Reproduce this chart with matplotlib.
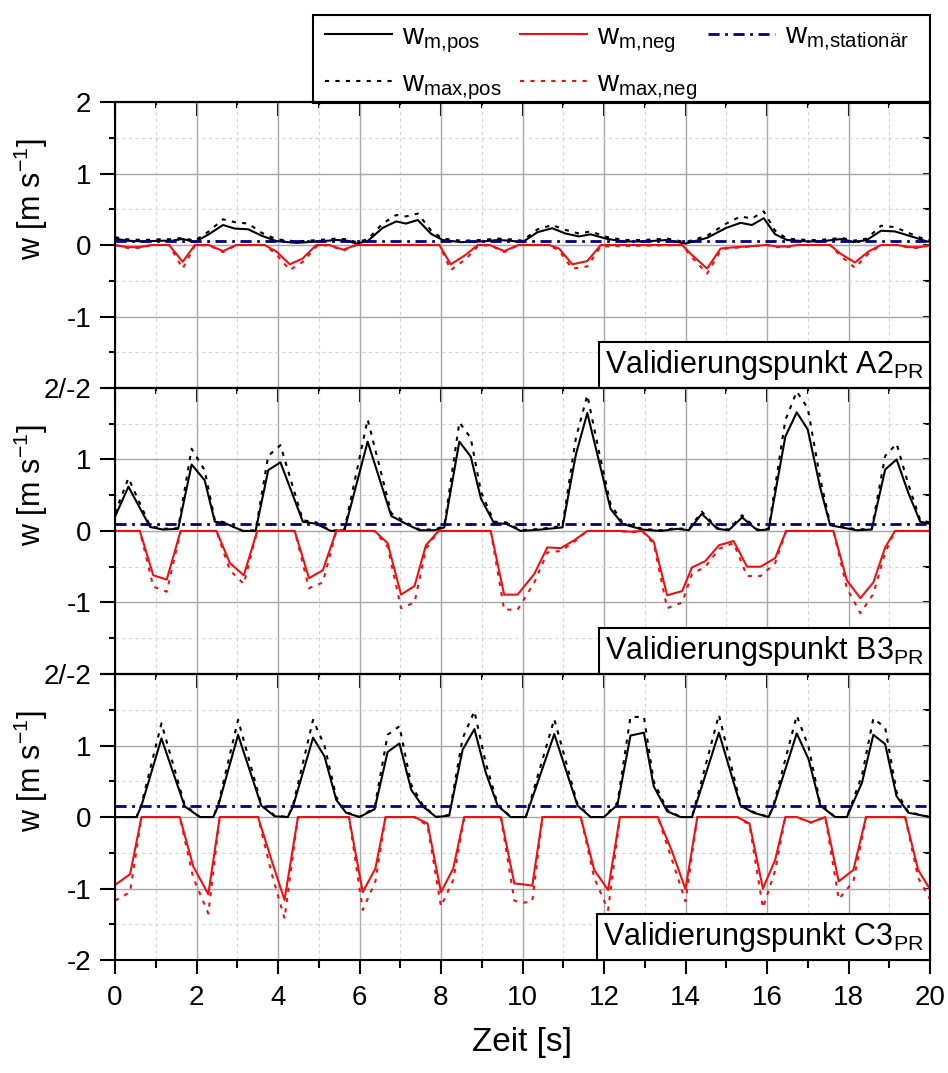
import numpy as np
import matplotlib
matplotlib.use('Agg')
import matplotlib.pyplot as plt
from matplotlib.ticker import MultipleLocator, NullFormatter
from matplotlib.offsetbox import AnchoredText
from matplotlib.patches import Rectangle

plt.rcParams['font.family'] = 'Liberation Sans'
plt.rcParams['mathtext.fontset'] = 'custom'
plt.rcParams['mathtext.rm'] = 'Liberation Sans'
plt.rcParams['mathtext.it'] = 'Liberation Sans:italic'

# ---- Validierungspunkt A2 ----
A2_t_pos = [0, 0.3, 0.7, 1.1, 1.4, 1.66, 1.96, 2.3, 2.65, 2.94,
            3.27, 3.6, 3.96, 4.45, 5.0, 5.43, 5.7, 5.92, 6.2, 6.57,
            6.9, 7.14, 7.43, 7.76, 8.04, 8.5, 9.0, 9.4, 9.7, 10.0,
            10.37, 10.73, 11.06, 11.39, 11.67, 12.08, 12.49, 13.0, 13.55, 14.0,
            14.53, 15.0, 15.35, 15.63, 15.92, 16.2, 16.49, 17.0, 17.3, 17.84,
            18.12, 18.45, 18.8, 19.14, 19.6, 19.92, 20]
A2_m_pos = [0.09, 0.06, 0.05, 0.06, 0.06, 0.085, 0.04, 0.15, 0.28, 0.23,
            0.22, 0.13, 0.055, 0.03, 0.05, 0.07, 0.06, 0.02, 0.056, 0.24,
            0.33, 0.3, 0.35, 0.155, 0.07, 0.04, 0.05, 0.07, 0.06, 0.04,
            0.18, 0.235, 0.16, 0.12, 0.15, 0.085, 0.05, 0.05, 0.07, 0.02,
            0.1, 0.24, 0.31, 0.28, 0.375, 0.15, 0.07, 0.05, 0.05, 0.085,
            0.04, 0.07, 0.2, 0.19, 0.11, 0.05, 0.05]
A2_max_pos = [0.11, 0.08, 0.07, 0.08, 0.08, 0.1, 0.06, 0.19, 0.36, 0.32,
              0.3, 0.17, 0.08, 0.05, 0.07, 0.09, 0.08, 0.04, 0.08, 0.3,
              0.42, 0.4, 0.44, 0.2, 0.09, 0.06, 0.07, 0.09, 0.08, 0.06,
              0.22, 0.28, 0.21, 0.16, 0.19, 0.11, 0.07, 0.07, 0.09, 0.04,
              0.13, 0.3, 0.4, 0.37, 0.47, 0.2, 0.09, 0.07, 0.07, 0.1,
              0.06, 0.09, 0.27, 0.25, 0.14, 0.07, 0.07]
A2_t_neg = [0, 0.3, 0.6, 0.9, 1.33, 1.66, 1.96, 2.3, 2.65, 2.98,
            3.67, 3.96, 4.29, 4.6, 4.94, 5.25, 5.6, 5.92, 7.96, 8.24,
            8.6, 8.9, 9.2, 9.55, 9.9, 10.65, 10.9, 11.22, 11.59, 11.92,
            13.92, 14.12, 14.53, 14.86, 15.0, 16.0, 16.25, 16.5, 16.75, 17.55,
            17.8, 18.16, 18.49, 18.8, 19.2, 19.5, 19.75, 20]
A2_m_neg = [0, -0.03, -0.03, 0, 0, -0.235, 0, 0, -0.085, 0,
            0, -0.09, -0.27, -0.19, 0, 0, -0.065, 0, 0, -0.27,
            -0.14, 0, 0, -0.085, 0, 0, -0.05, -0.27, -0.225, 0,
            0, -0.12, -0.33, -0.05, -0.04, 0, -0.02, -0.02, 0, 0,
            -0.12, -0.245, -0.09, 0, 0, -0.03, -0.03, 0]
A2_max_neg = [0, -0.04, -0.04, 0, 0, -0.33, -0.01, 0, -0.1, 0,
              0, -0.13, -0.35, -0.24, -0.02, 0, -0.08, 0, 0, -0.35,
              -0.2, -0.02, 0, -0.1, 0, 0, -0.08, -0.33, -0.3, -0.02,
              0, -0.15, -0.4, -0.08, -0.05, 0, -0.03, -0.03, 0, 0,
              -0.15, -0.32, -0.12, 0, 0, -0.04, -0.04, 0]

# ---- Validierungspunkt B3 ----
B3_t_pos = [0, 0.33, 0.86, 1.18, 1.55, 1.88, 2.2, 2.45, 2.69, 3.14,
            3.45, 3.76, 4.06, 4.61, 4.94, 5.3, 5.63, 6.2, 6.78, 7.14,
            7.47, 7.84, 8.08, 8.45, 8.73, 8.98, 9.3, 9.6, 9.96, 10.45,
            10.98, 11.31, 11.59, 11.88, 12.16, 12.45, 12.94, 13.39, 13.8, 14.08,
            14.4, 14.78, 15.06, 15.39, 15.76, 16.04, 16.45, 16.73, 17.0, 17.3,
            17.55, 18.2, 18.57, 18.9, 19.18, 19.47, 19.76, 20]
B3_m_pos = [0.2, 0.62, 0.056, 0.02, 0.03, 0.93, 0.71, 0.13, 0.11, 0,
            0, 0.85, 0.96, 0.13, 0.1, 0, 0.01, 1.25, 0.21, 0.1,
            0.01, 0.01, 0.05, 1.25, 1.04, 0.455, 0.11, 0.1, 0, 0.02,
            0.05, 1.07, 1.65, 0.97, 0.31, 0.1, 0.02, 0, 0.03, 0.01,
            0.24, 0.03, 0.01, 0.19, 0.01, 0.02, 1.32, 1.66, 1.42, 0.62,
            0.08, 0.01, 0.02, 0.86, 1.0, 0.53, 0.13, 0.1]
B3_max_pos = [0.25, 0.74, 0.07, 0.03, 0.04, 1.15, 0.85, 0.15, 0.12, 0,
              0.01, 1.05, 1.2, 0.15, 0.12, 0, 0.02, 1.56, 0.25, 0.12,
              0.02, 0.02, 0.07, 1.52, 1.3, 0.55, 0.13, 0.12, 0.01, 0.03,
              0.07, 1.3, 1.9, 1.1, 0.38, 0.12, 0.03, 0.01, 0.04, 0.02,
              0.27, 0.04, 0.02, 0.22, 0.02, 0.03, 1.55, 1.95, 1.72, 0.75,
              0.1, 0.02, 0.03, 1.05, 1.22, 0.65, 0.15, 0.12]
B3_t_neg = [0, 0.61, 0.94, 1.27, 1.61, 2.49, 2.82, 3.16, 3.49, 4.41,
            4.76, 5.1, 5.43, 6.37, 6.69, 7.02, 7.35, 7.63, 7.94, 9.22,
            9.55, 9.88, 10.29, 10.61, 10.94, 11.27, 11.59, 12.4, 12.65, 12.94,
            13.22, 13.55, 13.92, 14.16, 14.49, 14.82, 15.18, 15.51, 15.84, 16.2,
            16.47, 17.63, 17.96, 18.29, 18.61, 18.9, 19.14, 20]
B3_m_neg = [0, 0, -0.62, -0.68, 0, 0, -0.45, -0.62, 0, 0,
            -0.66, -0.55, 0, 0, -0.17, -0.89, -0.77, -0.2, 0, 0,
            -0.89, -0.89, -0.6, -0.23, -0.24, -0.13, 0, 0, -0.01, 0,
            -0.15, -0.9, -0.84, -0.51, -0.42, -0.2, -0.14, -0.5, -0.5, -0.38,
            0, 0, -0.69, -0.94, -0.72, -0.23, 0, 0]
B3_max_neg = [0, 0, -0.78, -0.85, 0, 0, -0.55, -0.74, 0, 0,
              -0.8, -0.72, 0, 0, -0.22, -1.08, -1.0, -0.25, 0, 0,
              -1.1, -1.1, -0.72, -0.3, -0.28, -0.15, 0, 0, -0.02, 0,
              -0.18, -1.08, -1.0, -0.6, -0.5, -0.25, -0.17, -0.63, -0.63, -0.45,
              0, 0, -0.8, -1.15, -0.88, -0.3, 0, 0]

# ---- Validierungspunkt C3 ----
C3_t_pos = [0, 0.53, 0.65, 1.14, 1.71, 2.08, 2.41, 2.53, 3.02, 3.59,
            3.92, 4.24, 4.37, 4.86, 5.14, 5.43, 5.67, 6.0, 6.37, 6.69,
            6.98, 7.27, 7.55, 7.88, 8.2, 8.53, 8.82, 9.1, 9.39, 9.71,
            10.08, 10.78, 11.35, 11.67, 12.0, 12.33, 12.65, 12.98, 13.22, 13.55,
            13.88, 14.16, 14.82, 15.35, 15.67, 16.04, 16.16, 16.73, 17.02, 17.31,
            17.67, 17.96, 18.33, 18.61, 18.9, 19.18, 19.47, 20]
C3_m_pos = [0, 0, 0.16, 1.1, 0.15, 0, 0, 0.15, 1.15, 0.16,
            0.01, 0, 0.15, 1.11, 0.85, 0.24, 0.06, 0, 0.11, 0.91,
            1.03, 0.38, 0.15, 0, 0.02, 0.94, 1.23, 0.62, 0.16, 0,
            0, 1.16, 0.16, 0, 0, 0.17, 1.14, 1.18, 0.43, 0.08,
            0, 0, 1.18, 0.16, 0.06, 0, 0.15, 1.17, 0.81, 0.16,
            0, 0, 0.48, 1.15, 1.02, 0.29, 0.06, 0]
C3_max_pos = [0, 0, 0.18, 1.31, 0.17, 0, 0, 0.17, 1.36, 0.18,
              0.02, 0, 0.17, 1.36, 1.0, 0.28, 0.07, 0, 0.13, 1.15,
              1.27, 0.45, 0.17, 0, 0.03, 1.1, 1.48, 0.75, 0.18, 0,
              0, 1.37, 0.18, 0, 0, 0.2, 1.4, 1.4, 0.5, 0.1,
              0, 0, 1.43, 0.18, 0.07, 0, 0.17, 1.42, 0.98, 0.18,
              0, 0, 0.58, 1.38, 1.25, 0.35, 0.07, 0]
C3_t_neg = [0, 0.37, 0.65, 1.59, 1.92, 2.29, 2.57, 3.51, 3.84, 4.16,
            4.49, 5.74, 6.08, 6.39, 6.64, 7.35, 7.67, 8.0, 8.3, 8.57,
            9.47, 9.8, 10.0, 10.24, 10.49, 11.43, 11.76, 12.1, 12.39, 13.32,
            13.67, 14.0, 14.29, 15.27, 15.57, 15.9, 16.2, 16.45, 16.73, 17.08,
            17.43, 17.76, 18.12, 18.43, 19.39, 19.71, 20]
C3_m_neg = [-0.95, -0.8, 0, 0, -0.69, -1.08, 0, 0, -0.6, -1.16,
            0, 0, -1.05, -0.72, 0, 0, -0.09, -1.05, -0.72, 0,
            0, -0.93, -0.94, -0.96, 0, 0, -0.74, -1.02, 0, 0,
            -0.48, -1.01, 0, 0, -0.09, -1.0, -0.6, 0, 0, -0.075,
            0, -0.9, -0.74, 0, 0, -0.74, -1.01]
C3_max_neg = [-1.17, -1.05, 0, 0, -0.85, -1.35, 0, 0, -0.78, -1.42,
              0, 0, -1.3, -0.9, 0, 0, -0.12, -1.25, -0.88, 0,
              0, -1.17, -1.2, -1.18, 0, 0, -0.85, -1.3, 0, 0,
              -0.6, -1.18, 0, 0, -0.11, -1.27, -0.75, 0, 0, -0.08,
              0, -1.15, -0.9, 0, 0, -0.85, -1.15]

# stationary mean values per point
w_stat = [0.05, 0.1, 0.15]
names = ['A2', 'B3', 'C3']
ytick_labels = [['2/-2', '-1', '0', '1', '2'],
                ['2/-2', '-1', '0', '1', ''],
                ['-2', '-1', '0', '1', '']]

panels = [
    (A2_t_pos, A2_m_pos, A2_max_pos, A2_t_neg, A2_m_neg, A2_max_neg),
    (B3_t_pos, B3_m_pos, B3_max_pos, B3_t_neg, B3_m_neg, B3_max_neg),
    (C3_t_pos, C3_m_pos, C3_max_pos, C3_t_neg, C3_m_neg, C3_max_neg),
]

W, H = 948, 1073
fig = plt.figure(figsize=(W / 100, H / 100), dpi=100)
left, width, height = 115 / W, 815 / W, 0.2665
bottoms = [0.6384, 0.3719, 0.1053]

dot = (0, (2, 3))
dashdot = (0, (4, 2, 1, 2))
red = '#ee1111'
handles = []

for i, (tp, mp, xp, tn, mn, xn) in enumerate(panels):
    ax = fig.add_axes([left, bottoms[i], width, height])
    ax.set_xlim(0, 20)
    ax.set_ylim(-2, 2)
    ax.xaxis.set_major_locator(MultipleLocator(2))
    ax.xaxis.set_minor_locator(MultipleLocator(1))
    ax.yaxis.set_minor_locator(MultipleLocator(0.5))
    ax.set_yticks([-2, -1, 0, 1, 2], ytick_labels[i])
    ax.set_axisbelow(True)
    ax.grid(which='major', color='#a8a8a8', lw=1.0, ls='-')
    ax.grid(which='minor', color='#d4d4d4', lw=0.8, ls=(0, (3, 3)))

    l1, = ax.plot(tp, mp, color='black', lw=1.5, label=r'$\mathregular{w_{m{,}pos}}$')
    l2, = ax.plot(tp, xp, color='black', lw=1.5, ls=dot, label=r'$\mathregular{w_{max{,}pos}}$')
    l3, = ax.plot(tn, mn, color=red, lw=1.5, label=r'$\mathregular{w_{m{,}neg}}$')
    l4, = ax.plot(tn, xn, color=red, lw=1.5, ls=dot, label=r'$\mathregular{w_{max{,}neg}}$')
    l5, = ax.plot([0, 20], [w_stat[i], w_stat[i]], color='#000080', lw=2, ls=dashdot,
                  label=r'$\mathregular{w_{m{,}stationär}}$')
    if i == 0:
        handles = [l1, l2, l3, l4, l5]

    for s in ax.spines.values():
        s.set_linewidth(1.5)

    last = (i == 2)
    ax.tick_params(axis='y', which='major', direction='out', length=11, width=1.5,
                   labelsize=20, pad=6, right=False, left=True)
    ax.tick_params(axis='y', which='minor', direction='out', length=4, width=1.5,
                   right=False, left=True)
    ax.tick_params(axis='x', which='major', direction='out', length=10, width=1.5,
                   labelsize=20, pad=8, bottom=last, labelbottom=last, top=False)
    ax.tick_params(axis='x', which='minor', direction='out', length=6, width=1.5,
                   bottom=last, top=False)

    # inward ticks on top and right
    sx = ax.secondary_xaxis('top')
    sx.xaxis.set_major_locator(MultipleLocator(2))
    sx.xaxis.set_minor_locator(MultipleLocator(1))
    sx.xaxis.set_major_formatter(NullFormatter())
    sx.tick_params(which='major', direction='in', length=10, width=1.5)
    sx.tick_params(which='minor', direction='in', length=4.5, width=1.5)
    sx.spines['top'].set_linewidth(1.5)
    sy = ax.secondary_yaxis('right')
    sy.yaxis.set_major_locator(MultipleLocator(1))
    sy.yaxis.set_minor_locator(MultipleLocator(0.5))
    sy.yaxis.set_major_formatter(NullFormatter())
    sy.tick_params(which='both', direction='in', length=5, width=1.5)
    sy.spines['right'].set_linewidth(1.5)

    ax.set_ylabel(r'w [m s$^{-1}$]', fontsize=22)
    ax.yaxis.set_label_coords(-0.08, 0.66)

    at = AnchoredText('Validierungspunkt ' + names[i] + r'$_{\mathregular{PR}}$',
                      loc='lower right', borderpad=0, pad=0.2, frameon=True,
                      prop=dict(size=22))
    at.patch.set_boxstyle('square,pad=0')
    at.patch.set_linewidth(1.5)
    ax.add_artist(at)

    if last:
        ax.set_xlabel('Zeit [s]', fontsize=24)
        ax.xaxis.set_label_coords(0.5, -0.235)

# legend frame spanning the top, three legend columns inside
fig.patches.append(Rectangle((313 / W, 1 - 103 / H), 617 / W, 88 / H,
                             transform=fig.transFigure, fill=False,
                             edgecolor='black', lw=1.5))
cols = [([handles[0], handles[1]], 325), ([handles[2], handles[3]], 520), ([handles[4]], 708)]
for hs, xpx in cols:
    fig.legend(hs, [h.get_label() for h in hs], loc='upper left',
               bbox_to_anchor=(xpx / W, 1 - 22 / H), frameon=False, fontsize=21,
               handlelength=2.3, handletextpad=0.35, labelspacing=0.5,
               borderpad=0, borderaxespad=0)

fig.savefig('out.png', dpi=100)
